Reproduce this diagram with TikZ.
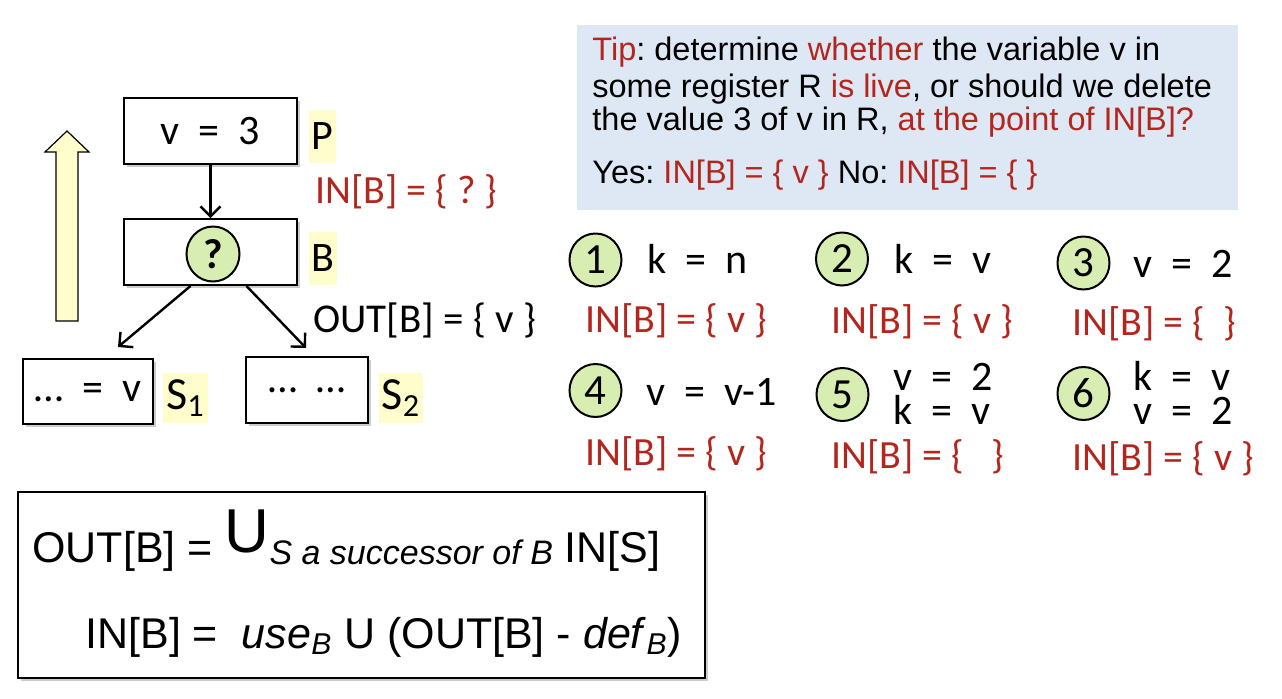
\documentclass[tikz,border=0pt]{standalone}
\usepackage{fontspec}
\setmainfont{Carlito}
\newfontfamily\arialfont{Liberation Sans}
\usetikzlibrary{arrows.meta}
\usetikzlibrary{shapes.geometric}
\usetikzlibrary{shadows}
\frenchspacing

\definecolor{tipred}{HTML}{B3261E}
\definecolor{tipblue}{HTML}{DEE8F4}
\definecolor{hlyellow}{HTML}{FFFDCC}
\definecolor{stepgreen}{HTML}{D7EDB1}

\tikzset{
  blk/.style={draw, line width=1pt, fill=white, minimum height=33pt, font=\fontsize{21}{25}\selectfont,
    drop shadow={shadow xshift=1.5pt, shadow yshift=-1.5pt, opacity=.4}},
  hl/.style={fill=hlyellow, inner xsep=1.5pt, inner ysep=0pt, minimum height=26.5pt, font=\fontsize{21}{25}\selectfont},
  num/.style={ellipse, draw, line width=1pt, fill=stepgreen, minimum width=26pt, minimum height=26.5pt,
    inner sep=0pt, font=\fontsize{21.5}{25}\selectfont},
  code/.style={anchor=base west, inner sep=0pt, font=\fontsize{21}{17}\selectfont},
  res/.style={anchor=base west, inner sep=0pt, text=tipred, font=\fontsize{20}{24}\selectfont},
  tipline/.style={anchor=base west, inner sep=0pt, font=\arialfont\fontsize{16.25}{19}\selectfont},
  flow/.style={-{Straight Barb[length=5pt,width=10pt]}, line width=1.2pt},
}

\begin{document}
\begin{tikzpicture}[x=0.5pt,y=-0.5pt]
                \path[use as bounding box, fill=white] (0,0) rectangle (1282,698);
                % the tip
                \node[fill=tipblue, anchor=north west, minimum width=330.5pt, minimum height=92.5pt] (tip) at (577,25) {};
                \node[tipline] (tip1) at (592,60) {\textcolor{tipred}{Tip}: determine \textcolor{tipred}{whether} the variable v in};
                \node[tipline] (tip2) at (592,97) {some register R \textcolor{tipred}{is live}, or should we delete};
                \node[tipline] (tip3) at (592,130) {the value 3 of v in R, \textcolor{tipred}{at the point of IN[B]?}};
                \node[tipline] (tip4) at (592,183) {Yes: \textcolor{tipred}{IN[B] = \{ v \}} No: \textcolor{tipred}{IN[B] = \{ \}}};
                % the blocks
                \draw[fill=hlyellow, line width=0.6pt] (56,321) -- (56,152) -- (45,152) -- (67,131) -- (89,152) -- (78,152) -- (78,321) -- cycle;
                \node[blk, minimum width=86.5pt] (P) at (210.5,131) {v~~=~~3};
                \node[blk, minimum width=86.5pt] (B) at (210.5,252) {};
                \node[num, minimum width=26.5pt, minimum height=27.5pt, font=\fontsize{21}{25}\selectfont\bfseries] (q) at (213,254) {?};
                \node[blk, minimum width=65pt, minimum height=32.5pt] (S1) at (88,391.5) {\dots~~=~~v};
                \node[blk, minimum width=61pt] (S2) at (307,390) {\dots~~\dots};
                \node[hl, minimum width=12.5pt] (Plbl) at (322.5,136.5) {P};
                \node[hl, minimum width=12.5pt] (Blbl) at (323,258.5) {B};
                \node[hl, minimum width=19.5pt, minimum height=25pt, font=\fontsize{23}{27}\selectfont] (S1lbl) at (185.5,398) {S\textsubscript{1}};
                \node[hl, minimum width=20pt, minimum height=25pt, font=\fontsize{23}{27}\selectfont] (S2lbl) at (401,398) {S\textsubscript{2}};
                \node[res] (inP) at (315,203) {IN[B] = \{ ? \}};
                \node[res, text=black, font=\fontsize{20.5}{24}\selectfont] (outB) at (313,332) {OUT[B] = \{ v \}};
                \coordinate (s1in) at (118,347);
                \coordinate (s2in) at (306,348);
                \draw[flow] (P) -- (B);
                \draw[flow] ([xshift=-10pt]B.south) -- (s1in);
                \draw[flow] ([xshift=18pt]B.south) -- (s2in);
                % the six cases
                \node[num] (n1) at (595.5,260) {1};
                \node[code] (c1) at (647,273) {k~~=~~n};
                \node[res] (r1) at (585,332) {IN[B] = \{ v \}};
                \node[num] (n2) at (842,259) {2};
                \node[code] (c2) at (894,273) {k~~=~~v};
                \node[res] (r2) at (831,333) {IN[B] = \{ v \}};
                \node[num] (n3) at (1083.5,263) {3};
                \node[code] (c3) at (1133,277) {v~~=~~2};
                \node[res] (r3) at (1072,335) {IN[B] = \{~~\}};
                \node[num] (n4) at (595.5,390.5) {4};
                \node[code] (c4) at (646,405) {v~~=~~v-1};
                \node[res] (r4) at (585,465) {IN[B] = \{ v \}};
                \node[num] (n5) at (842.5,394.5) {5};
                \node[code, align=left] (c5) at (893,424) {v~~=~~2\\k~~=~~v};
                \node[res] (r5) at (831,468) {IN[B] = \{~~~\}};
                \node[num] (n6) at (1083.5,393.5) {6};
                \node[code, align=left] (c6) at (1133,424) {k~~=~~v\\v~~=~~2};
                \node[res] (r6) at (1072,470) {IN[B] = \{ v \}};
                % the equations
                \node[draw, line width=1pt, fill=white, minimum width=343.5pt, minimum height=93pt,
                  drop shadow={shadow xshift=1.5pt, shadow yshift=-1.5pt, opacity=.4}] (eqs) at (361.5,585) {};
                \node[anchor=base west, inner sep=0pt, font=\arialfont\fontsize{21.5}{25}\selectfont] (outeq) at (32,562)
                  {OUT[B] =\ \raisebox{5pt}{\fontsize{31}{33}\selectfont U}\raisebox{-1pt}{\fontsize{17}{19}\selectfont\itshape S a successor of B} IN[S]};
                \node[anchor=base west, inner sep=0pt, font=\arialfont\fontsize{21.5}{25}\selectfont] (ineq) at (85,648)
                  {IN[B] =\ \ \textit{use}\textsubscript{\textit{B}} U (OUT[B] - \textit{def}\textsubscript{\textit{B}})};
            \end{tikzpicture}
\end{document}
